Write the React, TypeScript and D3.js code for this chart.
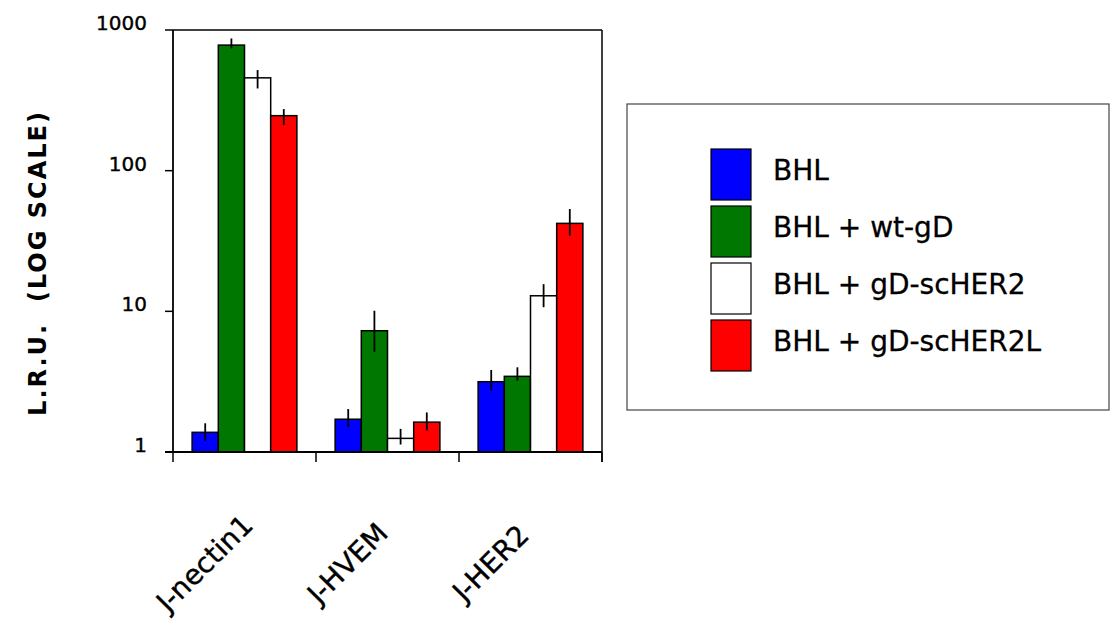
import React from "react";
import * as d3 from "d3";

// values (L.R.U., log scale)
const groups = ["J-nectin1", "J-HVEM", "J-HER2"];
const series = ["BHL", "BHL + wt-gD", "BHL + gD-scHER2", "BHL + gD-scHER2L"];
const colors = ["#0000ff", "#007700", "#ffffff", "#ff0000"];

const bhl = [1.38, 1.71, 3.16];
const wtGD = [781, 7.28, 3.45];
const scHER2 = [457, 1.25, 12.9];
const scHER2L = [246, 1.63, 42.2];

const errLow = [
  [1.2, 1.51, 2.73],
  [740, 5.16, 3.21],
  [384, 1.13, 10.7],
  [211, 1.42, 34.5],
];
const errHigh = [
  [1.6, 2.02, 3.83],
  [871, 10.1, 4.0],
  [519, 1.46, 15.6],
  [274, 1.91, 53.4],
];

const yTicks = [1, 10, 100, 1000];

const FONT = "'Comic Sans MS', 'DejaVu Sans', sans-serif";

export default function App() {
  const W = 1110;
  const H = 632;
  const left = 173;
  const right = 602;
  const top = 30;
  const bottom = 452;

  const values = [bhl, wtGD, scHER2, scHER2L];

  const x0 = d3.scaleBand<string>().domain(groups).range([left, right]).padding(0);
  const x1 = d3
    .scaleBand<string>()
    .domain(series)
    .range([0, x0.bandwidth()])
    .paddingInner(0)
    .paddingOuter(0.73);
  const y = d3.scaleLog().domain([1, 1000]).range([bottom, top]);

  const boundaries = [...groups.map((g) => x0(g) as number), right];

  return (
    <svg width={W} height={H} style={{ position: "absolute", left: 0, top: 0 }}>
      <rect width={W} height={H} fill="#fff" />

      {/* bars */}
      {groups.map((g, gi) => (
        <g key={g} transform={`translate(${x0(g)},0)`}>
          {series.map((s, si) => {
            const v = values[si][gi];
            const bx = x1(s) as number;
            return (
              <rect
                key={s}
                x={bx}
                y={y(v)}
                width={x1.bandwidth()}
                height={bottom - y(v)}
                fill={colors[si]}
                stroke="#000"
                strokeWidth={1.5}
              />
            );
          })}
          {series.map((s, si) => {
            const cx = (x1(s) as number) + x1.bandwidth() / 2;
            return (
              <line
                key={s + "-err"}
                x1={cx}
                x2={cx}
                y1={y(errHigh[si][gi])}
                y2={y(errLow[si][gi])}
                stroke="#000"
                strokeWidth={1.8}
              />
            );
          })}
        </g>
      ))}

      {/* frame */}
      <line x1={left} x2={right} y1={top} y2={top} stroke="#000" strokeWidth={1.5} />
      <line x1={left} x2={left} y1={top} y2={bottom} stroke="#000" strokeWidth={1.8} />
      <line x1={right} x2={right} y1={top} y2={bottom + 10} stroke="#000" strokeWidth={1.5} />
      <line x1={left - 8} x2={right} y1={bottom} y2={bottom} stroke="#000" strokeWidth={2.2} />

      {/* y ticks */}
      {yTicks.map((t) => (
        <g key={t}>
          <line x1={left - 8} x2={left} y1={y(t)} y2={y(t)} stroke="#000" strokeWidth={1.5} />
          <text
            x={147}
            y={y(t)}
            textAnchor="end"
            fontFamily={FONT}
            fontSize={20}
            fill="#000"
            stroke="#000"
            strokeWidth={0.4}
          >
            {t}
          </text>
        </g>
      ))}

      {/* x ticks */}
      {boundaries.map((bx, i) => (
        <line key={i} x1={bx} x2={bx} y1={bottom} y2={bottom + 10} stroke="#000" strokeWidth={1.5} />
      ))}

      {/* x labels */}
      {groups.map((g) => {
        const cx = (x0(g) as number) + x0.bandwidth() / 2 - 33;
        const cy = 570;
        return (
          <text
            key={g}
            x={cx}
            y={cy}
            transform={`rotate(-45,${cx},${cy})`}
            textAnchor="middle"
            fontFamily={FONT}
            fontSize={28}
            fill="#000"
            stroke="#000"
            strokeWidth={0.4}
          >
            {g}
          </text>
        );
      })}

      {/* y title */}
      <text
        transform="translate(46,263) rotate(-90)"
        textAnchor="middle"
        fontFamily={FONT}
        fontWeight="bold"
        fontSize={24}
        letterSpacing={2}
        fill="#000"
        xmlSpace="preserve"
      >
        L.R.U.  (LOG SCALE)
      </text>

      {/* legend */}
      <rect x={627} y={104} width={482} height={306} fill="#fff" stroke="#444" strokeWidth={1.2} />
      {series.map((s, i) => {
        const ly = 149 + i * 57;
        return (
          <g key={s}>
            <rect x={711} y={ly} width={40} height={51} fill={colors[i]} stroke="#000" strokeWidth={1.2} />
            <text
              x={773}
              y={ly + 31}
              fontFamily={FONT}
              fontSize={28}
              fill="#000"
              stroke="#000"
              strokeWidth={0.3}
            >
              {s}
            </text>
          </g>
        );
      })}
    </svg>
  );
}
